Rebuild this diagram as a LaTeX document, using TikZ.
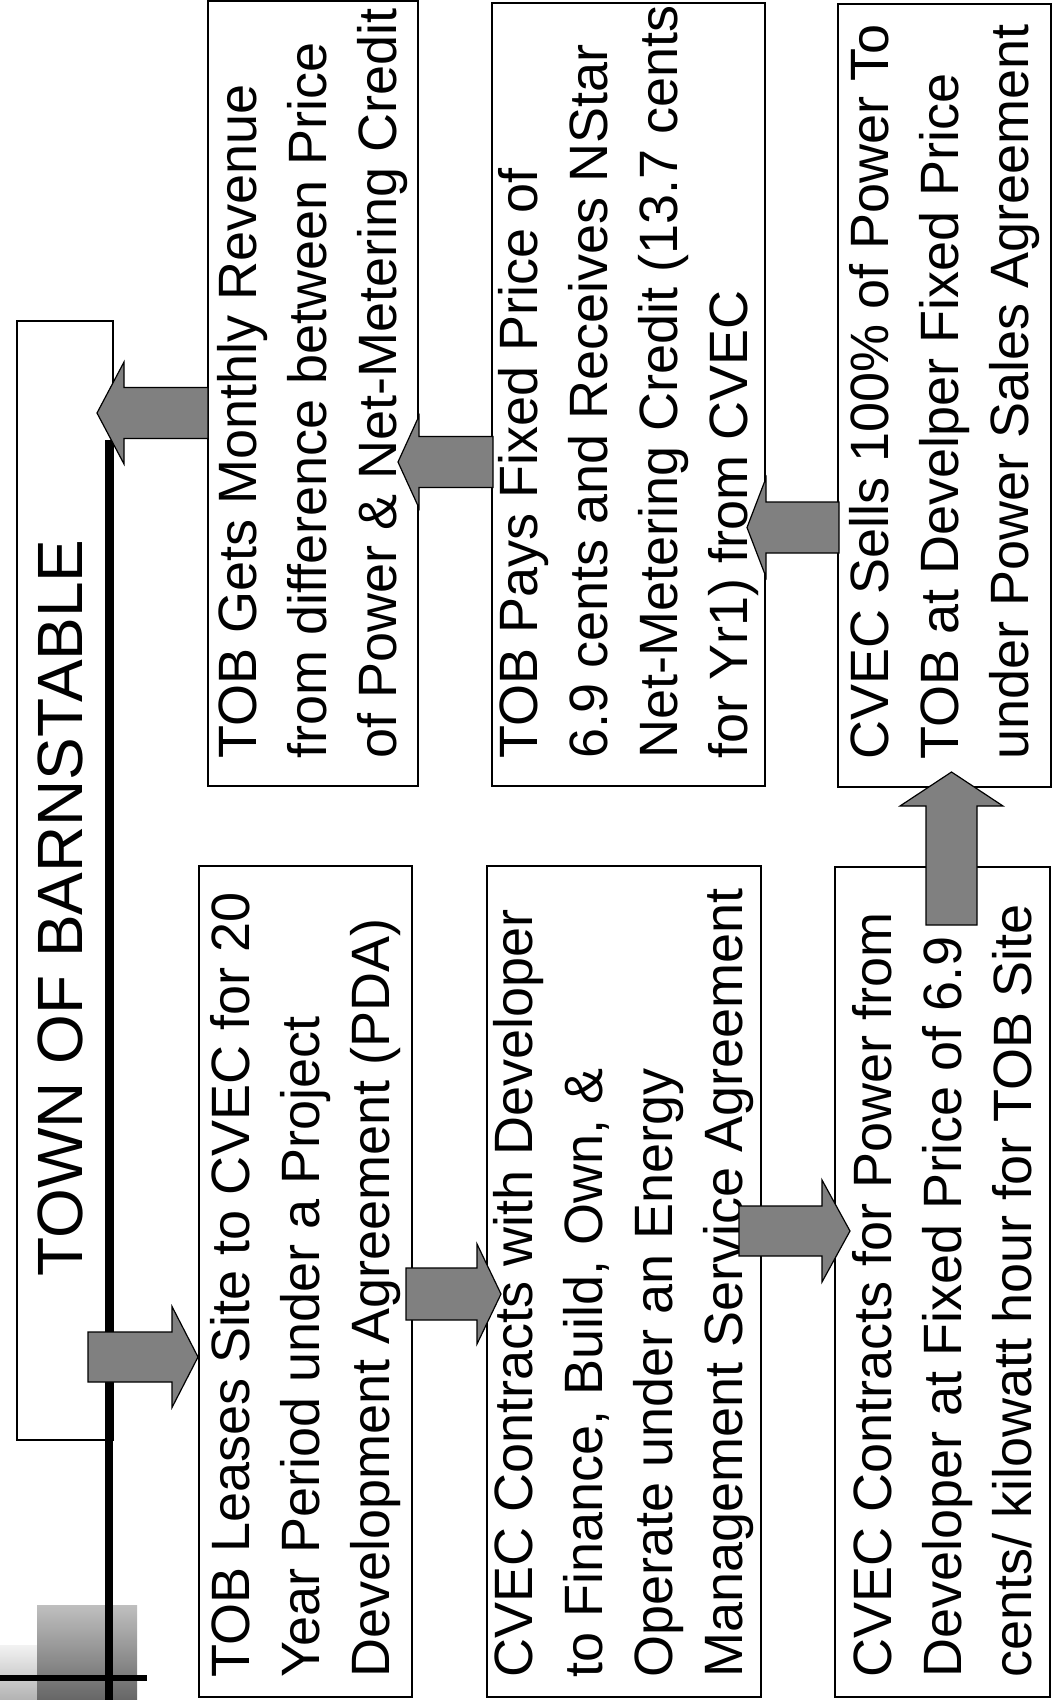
\documentclass[tikz,border=0pt]{standalone}
\usepackage{fontspec}
\setmainfont{Liberation Sans}
\usetikzlibrary{calc}
\newcommand\harr[6]{\filldraw[fatarrow] (#1,#4-#5) -- (#2,#4-#5) -- (#2,#4-#6) -- (#3,#4) -- (#2,#4+#6) -- (#2,#4+#5) -- (#1,#4+#5) -- cycle;}
\newcommand\varr[6]{\filldraw[fatarrow] (#1-#5,#2) -- (#1-#5,#3) -- (#1-#6,#3) -- (#1,#4) -- (#1+#6,#3) -- (#1+#5,#3) -- (#1+#5,#2) -- cycle;}
\begin{document}
\begin{tikzpicture}[x=1pt,y=-1pt,
  box/.style={draw, line width=1.5pt, inner sep=0pt, rectangle},
  txt/.style={rotate=90, anchor=west, align=left, inner sep=0pt, font=\fontsize{54}{70}\selectfont},
  fatarrow/.style={fill=black!50, draw=black, line width=1.2pt, line join=miter}]
\useasboundingbox (0,0) rectangle (1059,1700);
\fill[white] (0,0) rectangle (1059,1700);
% decoration
\shade[top color=black!5, bottom color=black!30] (0,1645) rectangle (37,1700);
\shade[top color=black!25, bottom color=black!60] (37,1605) rectangle (137,1700);
% title
\node[box, minimum width=96pt, minimum height=1119pt] (title) at (65,880.5) {};
\node[rotate=90, inner sep=0pt, font=\fontsize{64}{70}\selectfont] (titletext) at (60,908) {TOWN OF BARNSTABLE};
\draw[line width=8pt] (109,440) -- (109,1700);
\draw[line width=6pt] (0,1678) -- (147,1678);
% boxes
\node[box, minimum width=210pt, minimum height=785pt] (b1) at (313,393.5) {};
\node[box, minimum width=273pt, minimum height=783pt] (b2) at (628.5,394.5) {};
\node[box, minimum width=213pt, minimum height=783pt] (b3) at (944.5,395.5) {};
\node[box, minimum width=213pt, minimum height=831pt] (b4) at (305.5,1281.5) {};
\node[box, minimum width=274pt, minimum height=831pt] (b5) at (624,1281.5) {};
\node[box, minimum width=215pt, minimum height=830pt] (b6) at (942.5,1282) {};
% texts
\node[txt] (t1) at ($(b1.south)+(0,-28)$) {TOB Gets Monthly Revenue\\from difference between Price\\of Power \& Net-Metering Credit};
\node[txt] (t2) at ($(b2.south)+(0,-28)$) {TOB Pays Fixed Price of\\6.9 cents and Receives NStar\\Net-Metering Credit (13.7 cents\\for Yr1) from CVEC};
\node[txt] (t3) at ($(b3.south)+(0,-28)$) {CVEC Sells 100\% of Power To\\TOB at Develper Fixed Price\\under Power Sales Agreement};
\node[txt] (t4) at ($(b4.south)+(0,-20)$) {TOB Leases Site to CVEC for 20\\Year Period under a Project\\Development Agreement (PDA)};
\node[txt] (t5) at ($(b5.south)+(0,-20)$) {CVEC Contracts with Developer\\to Finance, Build, Own, \&\\Operate under an Energy\\Management Service Agreement};
\node[txt] (t6) at ($(b6.south)+(0,-20)$) {CVEC Contracts for Power from\\Developer at Fixed Price of 6.9\\cents/ kilowatt hour for TOB Site};
% arrows
\harr{88}{172}{198}{1357}{25}{50.5}
\harr{406}{477}{501}{1294}{26}{50}
\harr{739}{822}{850}{1231}{25}{51}
\varr{951.5}{925}{806}{772}{25.5}{51.5}
\harr{839}{766}{747}{527.5}{25.5}{49.5}
\harr{493}{419}{398}{462}{25.5}{46}
\harr{208}{124}{97}{413}{25.5}{51}
\end{tikzpicture}
\end{document}
